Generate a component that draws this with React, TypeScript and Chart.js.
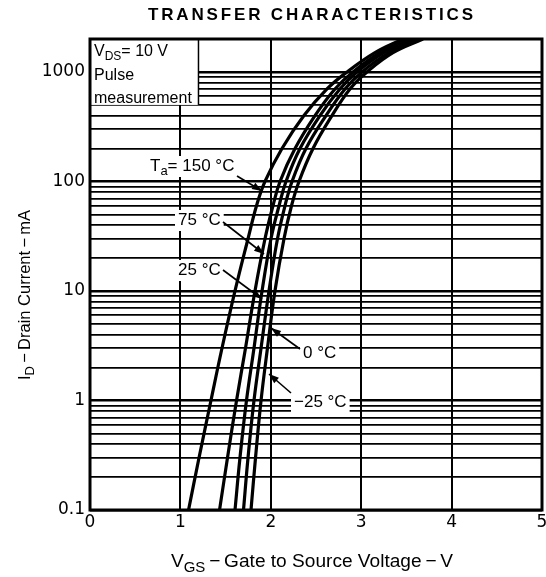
import { useEffect, useRef } from 'react';
import { Chart, registerables } from 'chart.js';

Chart.register(...registerables);

// ---- data ----
const currentLevels = [0.1, 0.3, 1, 3, 10, 30, 60, 100, 200, 400, 700, 1000, 1500, 2000]; // mA
const vgs150 = [1.09, 1.206, 1.338, 1.46, 1.604, 1.748, 1.842, 1.936, 2.124, 2.367, 2.622, 2.843, 3.153, 3.462];
const vgs75 = [1.433, 1.521, 1.621, 1.72, 1.825, 1.936, 2.024, 2.102, 2.268, 2.489, 2.71, 2.909, 3.208, 3.529];
const vgs25 = [1.604, 1.659, 1.731, 1.814, 1.903, 2.002, 2.091, 2.168, 2.323, 2.544, 2.765, 2.954, 3.252, 3.573];
const vgs0 = [1.698, 1.748, 1.814, 1.892, 1.98, 2.074, 2.157, 2.235, 2.389, 2.611, 2.821, 3.009, 3.308, 3.628];
const vgsM25 = [1.781, 1.831, 1.892, 1.963, 2.046, 2.146, 2.229, 2.312, 2.467, 2.677, 2.876, 3.064, 3.352, 3.684];
const seriesNames = ['150 °C', '75 °C', '25 °C', '0 °C', '−25 °C'];
const xTickValues = [0, 1, 2, 3, 4, 5];
const xTickLabels = ['0', '1', '2', '3', '4', '5'];
const yTickValues = [0.1, 1, 10, 100, 1000];
const yTickLabels = ['0.1', '1', '10', '100', '1000'];

const TEXT_FONT = '"Liberation Sans", Arial, sans-serif';
const DIGIT_FONT = '"DejaVu Sans", sans-serif';

type Part = { t: string; sub?: boolean };

function partFont(p: Part, size: number) {
  return `${p.sub ? Math.round(size * 0.78) : size}px ${TEXT_FONT}`;
}
function richWidth(ctx: CanvasRenderingContext2D, parts: Part[], size: number) {
  let w = 0;
  for (const p of parts) {
    ctx.font = partFont(p, size);
    w += ctx.measureText(p.t).width;
  }
  return w;
}
function fitSize(ctx: CanvasRenderingContext2D, parts: Part[], target: number) {
  const w = richWidth(ctx, parts, 20);
  return Math.round(((20 * target) / w) * 10) / 10;
}
function drawRich(
  ctx: CanvasRenderingContext2D,
  parts: Part[],
  x: number,
  y: number,
  size: number,
  align: 'left' | 'center',
) {
  const w = richWidth(ctx, parts, size);
  let cx = align === 'center' ? x - w / 2 : x;
  ctx.textAlign = 'left';
  ctx.textBaseline = 'alphabetic';
  for (const p of parts) {
    ctx.font = partFont(p, size);
    ctx.fillText(p.t, cx, p.sub ? y + size * 0.25 : y);
    cx += ctx.measureText(p.t).width;
  }
  return w;
}
function arrow(ctx: CanvasRenderingContext2D, x1: number, y1: number, x2: number, y2: number) {
  ctx.beginPath();
  ctx.moveTo(x1, y1);
  ctx.lineTo(x2, y2);
  ctx.lineWidth = 1.6;
  ctx.strokeStyle = '#000';
  ctx.stroke();
  const ang = Math.atan2(y2 - y1, x2 - x1);
  const L = 10;
  const H = 3.6;
  ctx.beginPath();
  ctx.moveTo(x2, y2);
  ctx.lineTo(x2 - L * Math.cos(ang) + H * Math.sin(ang), y2 - L * Math.sin(ang) - H * Math.cos(ang));
  ctx.lineTo(x2 - L * Math.cos(ang) - H * Math.sin(ang), y2 - L * Math.sin(ang) + H * Math.cos(ang));
  ctx.closePath();
  ctx.fillStyle = '#000';
  ctx.fill();
}

const labelDefs: { parts: Part[]; x: number; y: number; ax: number[] }[] = [
  { parts: [{ t: 'T' }, { t: 'a', sub: true }, { t: '= ' + seriesNames[0] }], x: 150, y: 171, ax: [237, 176, 262, 191] },
  { parts: [{ t: seriesNames[1] }], x: 178, y: 225, ax: [223, 222, 264, 254] },
  { parts: [{ t: seriesNames[2] }], x: 178, y: 275, ax: [223, 270, 262, 299] },
  { parts: [{ t: seriesNames[3] }], x: 303, y: 358, ax: [300, 349, 271, 328] },
  { parts: [{ t: seriesNames[4] }], x: 294, y: 407, ax: [291, 393, 269, 374] },
];

const decorPlugin = {
  id: 'decor',
  beforeDatasetsDraw(chart: any) {
    const ctx: CanvasRenderingContext2D = chart.ctx;
    const a = chart.chartArea;
    const xs = chart.scales.x;
    const ys = chart.scales.y;
    ctx.save();
    // VDS box
    const bx = xs.getPixelForValue(1.2);
    const by = ys.getPixelForValue(500);
    ctx.fillStyle = '#fff';
    ctx.fillRect(a.left, a.top, bx - a.left, by - a.top);
    ctx.beginPath();
    ctx.moveTo(bx, a.top);
    ctx.lineTo(bx, by);
    ctx.lineWidth = 1.5;
    ctx.strokeStyle = '#000';
    ctx.stroke();
    ctx.fillStyle = '#000';
    drawRich(ctx, [{ t: 'V' }, { t: 'DS', sub: true }, { t: '= 10 V' }], 94, 56, 16, 'left');
    drawRich(ctx, [{ t: 'Pulse' }], 94, 80, 16, 'left');
    drawRich(ctx, [{ t: 'measurement' }], 94, 103, 16, 'left');
    // curve labels
    for (const l of labelDefs) {
      const w = richWidth(ctx, l.parts, 17);
      ctx.fillStyle = '#fff';
      ctx.fillRect(l.x - 3, l.y - 15, w + 6, 21);
      ctx.fillStyle = '#000';
      drawRich(ctx, l.parts, l.x, l.y, 17, 'left');
    }
    ctx.restore();
  },
  afterDatasetsDraw(chart: any) {
    const ctx: CanvasRenderingContext2D = chart.ctx;
    const a = chart.chartArea;
    ctx.save();
    for (const l of labelDefs) arrow(ctx, l.ax[0], l.ax[1], l.ax[2], l.ax[3]);
    ctx.lineWidth = 3;
    ctx.strokeStyle = '#000';
    ctx.strokeRect(a.left, a.top, a.right - a.left, a.bottom - a.top);
    ctx.restore();
  },
  afterDraw(chart: any) {
    const ctx: CanvasRenderingContext2D = chart.ctx;
    ctx.save();
    ctx.fillStyle = '#000';
    // title with letter spacing
    const title = 'TRANSFER CHARACTERISTICS';
    ctx.font = `bold 17px ${TEXT_FONT}`;
    const chars = title.split('');
    const widths = chars.map((c) => ctx.measureText(c).width);
    const sum = widths.reduce((s, v) => s + v, 0);
    const targetW = 325;
    const sp = (targetW - sum) / (chars.length - 1);
    let tx = 310.5 - targetW / 2;
    ctx.textAlign = 'left';
    ctx.textBaseline = 'alphabetic';
    chars.forEach((c, i) => {
      ctx.fillText(c, tx, 20);
      tx += widths[i] + sp;
    });
    // x title
    const xParts: Part[] = [{ t: 'V' }, { t: 'GS', sub: true }, { t: '\u2009−\u2009Gate to Source Voltage\u2009−\u2009V' }];
    drawRich(ctx, xParts, 312, 567, fitSize(ctx, xParts, 283), 'center');
    // y title
    const yParts: Part[] = [{ t: 'I' }, { t: 'D', sub: true }, { t: '\u2009−\u2009Drain Current\u2009−\u2009mA' }];
    ctx.translate(24, 295);
    ctx.rotate(-Math.PI / 2);
    drawRich(ctx, yParts, 0, 6, fitSize(ctx, yParts, 170), 'center');
    ctx.restore();
  },
};

export default function App() {
  const ref = useRef<HTMLCanvasElement>(null);
  useEffect(() => {
    const canvas = ref.current;
    if (!canvas) return;
    const series = [vgs150, vgs75, vgs25, vgs0, vgsM25];
    const datasets = series.map((vs, i) => ({
      label: seriesNames[i],
      data: vs.map((v, j) => ({ x: v, y: currentLevels[j] })),
      showLine: true,
      borderColor: '#000',
      backgroundColor: '#000',
      borderWidth: 3.2,
      pointRadius: 0,
      tension: 0.4,
      fill: false,
    }));
    const yGrid: number[] = [];
    for (let d = 0; d < yTickValues.length - 1; d++) {
      for (let k = 1; k < 10; k++) yGrid.push(Number((yTickValues[d] * k).toPrecision(6)));
    }
    yGrid.push(yTickValues[yTickValues.length - 1]);

    const chart = new Chart(canvas, {
      type: 'scatter',
      data: { datasets },
      plugins: [decorPlugin],
      options: {
        animation: false,
        responsive: false,
        layout: { padding: { top: 39, right: 4, left: 0, bottom: 0 } },
        plugins: { legend: { display: false }, tooltip: { enabled: false } },
        scales: {
          x: {
            type: 'linear',
            min: 0,
            max: 5,
            afterBuildTicks: (s: any) => {
              s.ticks = xTickValues.map((v) => ({ value: v }));
            },
            afterFit: (s: any) => {
              s.height = 67;
              s.paddingLeft = 0;
              s.paddingRight = 0;
            },
            ticks: {
              autoSkip: false,
              maxRotation: 0,
              color: '#000',
              padding: 2,
              font: { family: DIGIT_FONT, size: 17 },
              callback: (v: any) => {
                const i = xTickValues.indexOf(Number(v));
                return i >= 0 ? xTickLabels[i] : '';
              },
            },
            grid: { color: '#000', lineWidth: 2, drawTicks: false },
            border: { display: false },
          },
          y: {
            type: 'logarithmic',
            min: 0.1,
            max: 2000,
            afterBuildTicks: (s: any) => {
              s.ticks = yGrid.map((v) => ({ value: v }));
            },
            afterFit: (s: any) => {
              s.width = 90;
              s.paddingTop = 0;
              s.paddingBottom = 0;
            },
            ticks: {
              autoSkip: false,
              color: '#000',
              padding: 5,
              font: { family: DIGIT_FONT, size: 17 },
              callback: (v: any) => {
                const i = yTickValues.indexOf(Number(v));
                return i >= 0 ? yTickLabels[i] : '';
              },
            },
            grid: {
              color: '#000',
              drawTicks: false,
              lineWidth: (c: any) => (yTickValues.includes(c.tick?.value) ? 2.4 : 1.8),
            },
            border: { display: false },
          },
        },
      },
    });
    return () => chart.destroy();
  }, []);
  return (
    <div style={{ position: 'absolute', left: 0, top: 0, width: 546, height: 577, background: '#fff' }}>
      <canvas ref={ref} width={546} height={577} />
    </div>
  );
}
